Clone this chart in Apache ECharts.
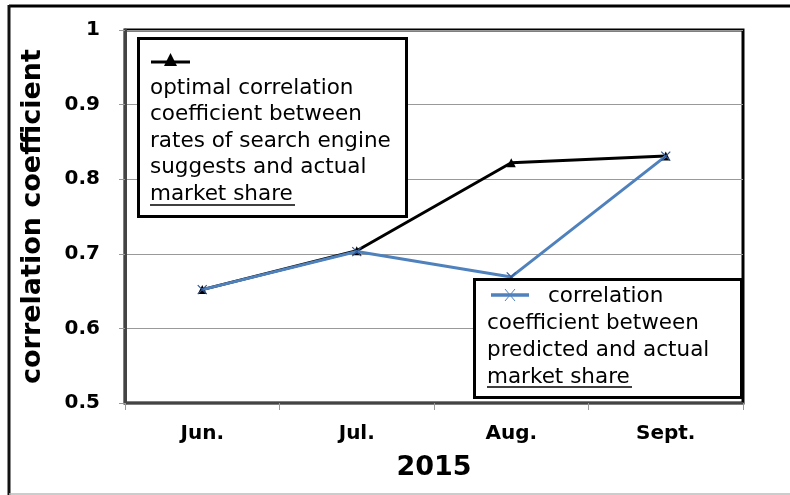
<!DOCTYPE html>
<html>
<head>
<meta charset="utf-8">
<script src="https://cdn.jsdelivr.net/npm/echarts@6/dist/echarts.min.js"></script>
<style>html,body{margin:0;padding:0;background:#fff;}#c{width:790px;height:495px;}</style>
</head>
<body>
<div id="c"></div>
<script>
var categories = ['Jun.', 'Jul.', 'Aug.', 'Sept.'];
var optimalValues = [0.652, 0.704, 0.822, 0.831];
var predictedValues = [0.652, 0.703, 0.669, 0.831];
var optimalName = ['optimal correlation', 'coefficient between', 'rates of search engine', 'suggests and actual', 'market share'];
var predictedName = ['correlation', 'coefficient between', 'predicted and actual', 'market share'];
var yAxisTitle = 'correlation coefficient';
var xAxisTitle = '2015';

var FONT = 'DejaVu Sans';
var BLUE = '#4F81BD';
var chart = echarts.init(document.getElementById('c'), null, {renderer: 'canvas'});

function textLines(lines, x, y0, step) {
  return lines.map(function (t, i) {
    return {type: 'text', z: 11,
      style: {x: x, y: y0 + i * step + 1, text: t, font: '21.5px "' + FONT + '"', fill: '#000', verticalAlign: 'middle'}};
  });
}

var graphics = [
  // outer frame
  {type: 'line', shape: {x1: 9, y1: 6, x2: 790, y2: 6}, style: {stroke: '#000', lineWidth: 3}},
  {type: 'line', shape: {x1: 9, y1: 5, x2: 9, y2: 495}, style: {stroke: '#111', lineWidth: 3}},
  {type: 'line', shape: {x1: 9, y1: 494, x2: 790, y2: 494}, style: {stroke: '#bbb', lineWidth: 1.5}},
  // legend 1
  {type: 'rect', shape: {x: 138.5, y: 38.5, width: 268, height: 178}, style: {fill: '#fff', stroke: '#000', lineWidth: 3}, z: 10},
  {type: 'line', shape: {x1: 151, y1: 62, x2: 190, y2: 62}, style: {stroke: '#000', lineWidth: 3}, z: 11},
  {type: 'polygon', shape: {points: [[170.5, 53], [164, 66], [177, 66]]}, style: {fill: '#000'}, z: 11},
  {type: 'line', shape: {x1: 150, y1: 205, x2: 295, y2: 205}, style: {stroke: '#000', lineWidth: 1.5}, z: 11},
  // legend 2
  {type: 'rect', shape: {x: 474.5, y: 279.5, width: 267, height: 118}, style: {fill: '#fff', stroke: '#000', lineWidth: 3}, z: 10},
  {type: 'line', shape: {x1: 491, y1: 295, x2: 529, y2: 295}, style: {stroke: BLUE, lineWidth: 3.5}, z: 11},
  {type: 'line', shape: {x1: 505, y1: 289, x2: 515, y2: 301}, style: {stroke: BLUE, lineWidth: 1}, z: 11},
  {type: 'line', shape: {x1: 515, y1: 289, x2: 505, y2: 301}, style: {stroke: BLUE, lineWidth: 1}, z: 11},
  {type: 'line', shape: {x1: 487, y1: 387, x2: 632, y2: 387}, style: {stroke: '#000', lineWidth: 1.5}, z: 11}
];
textLines(optimalName, 150, 87, 26.5).forEach(function (g) { graphics.push(g); });
var t2 = textLines(predictedName, 487, 295, 27.3);
t2[0].style.x = 548;
t2.forEach(function (g) { graphics.push(g); });

var option = {
  backgroundColor: '#fff',
  animation: false,
  grid: {left: 125, right: 47, top: 30, bottom: 92, show: true, borderColor: '#000', borderWidth: 3, backgroundColor: 'transparent'},
  xAxis: {
    type: 'category', data: categories, boundaryGap: true,
    axisLine: {lineStyle: {color: '#444', width: 2}},
    axisTick: {show: true, length: 7, lineStyle: {color: '#999'}},
    axisLabel: {color: '#000', fontFamily: FONT, fontWeight: 'bold', fontSize: 20, margin: 21},
    name: xAxisTitle, nameLocation: 'middle', nameGap: 51,
    nameTextStyle: {color: '#000', fontFamily: FONT, fontWeight: 'bold', fontSize: 27}
  },
  yAxis: {
    type: 'value', min: 0.5, max: 1, interval: 0.1,
    axisLine: {show: true, lineStyle: {color: '#444', width: 3}},
    axisTick: {show: true, length: 6, lineStyle: {color: '#999'}},
    splitLine: {lineStyle: {color: '#999', width: 1}},
    axisLabel: {color: '#000', fontFamily: FONT, fontWeight: 'bold', fontSize: 20, margin: 25,
      formatter: function (v) { return Math.abs(v - 1) < 1e-9 ? '1' : v.toFixed(1); }},
    name: yAxisTitle, nameLocation: 'middle', nameGap: 79, nameRotate: 90,
    nameTextStyle: {color: '#000', fontFamily: FONT, fontWeight: 'bold', fontSize: 27}
  },
  series: [
    {type: 'line', name: optimalName.join(' '), data: optimalValues,
      lineStyle: {color: '#000', width: 3}, itemStyle: {color: '#000'},
      symbol: 'triangle', symbolSize: 9, z: 3},
    {type: 'line', name: predictedName.join(' '), data: predictedValues,
      lineStyle: {color: BLUE, width: 3}, itemStyle: {color: 'transparent', borderColor: '#2F5597', borderWidth: 1.2},
      symbol: 'path://M0,0L10,10M10,0L0,10', symbolSize: 9, z: 4}
  ],
  graphic: graphics
};
chart.setOption(option);
</script>
</body>
</html>
